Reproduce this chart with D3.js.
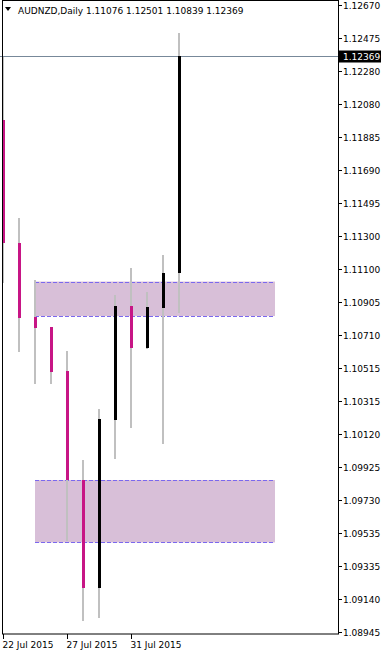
<!DOCTYPE html>
<html><head><meta charset="utf-8">
<script src="https://cdn.jsdelivr.net/npm/d3@7"></script>
<style>html,body{margin:0;padding:0;background:#fff;overflow:hidden}svg{display:block}</style>
</head><body>
<svg id="chart" width="381" height="653"></svg>
<script>
// ---- data ----
const dates  = ["22 Jul","23 Jul","24 Jul","26 Jul","27 Jul","28 Jul","29 Jul","30 Jul","31 Jul","2 Aug","3 Aug","4 Aug"];
const opens  = [1.11987,1.11256,1.10816,1.10757,1.10496,1.09848,1.09206,1.10205,1.10882,1.10632,1.10870,1.11076];
const highs  = [1.12361,1.11405,1.11036,1.10757,1.10614,1.09967,1.10270,1.10947,1.11108,1.10965,1.11185,1.12501];
const lows   = [1.11018,1.10609,1.10418,1.10418,1.09486,1.09010,1.09028,1.09973,1.10157,1.10626,1.10062,1.10839];
const closes = [1.11256,1.10811,1.10751,1.10490,1.09848,1.09206,1.10211,1.10882,1.10632,1.10876,1.11078,1.12369];
const priceTicks = [1.12670,1.12475,1.12280,1.12080,1.11885,1.11690,1.11495,1.11300,1.11100,1.10905,1.10710,1.10515,1.10315,1.10120,1.09925,1.09730,1.09535,1.09335,1.09140,1.08945];
const dateTickIdx = [0,4,8];
const dateTickLabels = ["22 Jul 2015","27 Jul 2015","31 Jul 2015"];
const zoneTop = [1.11027,1.09848];
const zoneBottom = [1.10822,1.09477];
const zoneStart = [2,2];
const zoneEnd = [17,17];
const symbol = "AUDNZD,Daily";
const lastPrice = 1.12369;

const svg = d3.select("#chart");
const font = "'DejaVu Sans', Tahoma, sans-serif";
const L = 2, R = 338, T = 0.5, B = 634;
const x = d3.scaleLinear().domain([0, 21]).range([3, 339]);
const y = d3.scaleLinear().domain([1.08945, 1.12670]).range([632, 5]);

// zones
const zones = zoneTop.map((t,i)=>({t, b:zoneBottom[i], s:zoneStart[i], e:zoneEnd[i]}));
svg.append("g").selectAll("rect").data(zones).join("rect")
  .attr("x", d=>x(d.s)).attr("width", d=>x(d.e)-x(d.s))
  .attr("y", d=>y(d.t)).attr("height", d=>y(d.b)-y(d.t))
  .attr("fill", "#D8BFD8");
const zl = svg.append("g");
zones.forEach(d=>{
  [d.t, d.b].forEach(p=>{
    zl.append("line").attr("x1", x(d.s)).attr("x2", x(d.e))
      .attr("y1", Math.round(y(p))+0.5).attr("y2", Math.round(y(p))+0.5)
      .attr("stroke", "#7B68EE").attr("stroke-width", 1).attr("stroke-dasharray", "4,2");
  });
});

// current price line
svg.append("line").attr("x1", 0).attr("x2", R)
  .attr("y1", Math.round(y(lastPrice))+0.5).attr("y2", Math.round(y(lastPrice))+0.5)
  .attr("stroke", "#778899").attr("stroke-width", 1);

// candles
const candles = dates.map((d,i)=>({i, o:opens[i], h:highs[i], l:lows[i], c:closes[i]}));
const cg = svg.append("g");
cg.selectAll("rect.wick").data(candles).join("rect").attr("class","wick")
  .attr("x", d=>Math.round(x(d.i))-1).attr("width", 2)
  .attr("y", d=>Math.round(y(d.h))).attr("height", d=>Math.max(1, Math.round(y(d.l))-Math.round(y(d.h))))
  .attr("fill", "#C0C0C0");
cg.selectAll("rect.body").data(candles).join("rect").attr("class","body")
  .attr("x", d=>Math.round(x(d.i))-1).attr("width", 3)
  .attr("y", d=>Math.round(y(Math.max(d.o,d.c))))
  .attr("height", d=>Math.max(1, Math.round(y(Math.min(d.o,d.c)))-Math.round(y(Math.max(d.o,d.c)))))
  .attr("fill", d=>d.c>=d.o ? "#000000" : "#C71585");

// frame
svg.append("rect").attr("x", L+0.5).attr("y", T).attr("width", R-L).attr("height", B-T)
  .attr("fill", "none").attr("stroke", "#000").attr("stroke-width", 1);

// price axis
const ya = svg.append("g");
priceTicks.forEach(p=>{
  const yy = Math.round(y(p))+0.5;
  ya.append("line").attr("x1", R+0.5).attr("x2", R+4).attr("y1", yy).attr("y2", yy).attr("stroke", "#000");
  ya.append("text").attr("x", 343).attr("y", yy).attr("dy", "0.35em")
    .attr("font-family", font).attr("font-size", 9).attr("fill", "#000").text(p.toFixed(5));
});
// last price box
const ly = Math.round(y(lastPrice))+0.5;
ya.append("rect").attr("x", R+1).attr("y", ly-6).attr("width", 381-R-1).attr("height", 12).attr("fill", "#000");
ya.append("text").attr("x", 343).attr("y", ly).attr("dy", "0.35em")
  .attr("font-family", font).attr("font-size", 9).attr("fill", "#fff").text(lastPrice.toFixed(5));

// date axis
const xa = svg.append("g");
dateTickIdx.forEach((idx,k)=>{
  const xx = Math.round(x(idx))+0.5;
  xa.append("line").attr("x1", xx).attr("x2", xx).attr("y1", B).attr("y2", B+5).attr("stroke", "#000");
  xa.append("text").attr("x", xx-1).attr("y", 648)
    .attr("font-family", font).attr("font-size", 9).attr("fill", "#000").text(dateTickLabels[k]);
});

// header
svg.append("path").attr("d", "M5,7 L11,7 L8,11 Z").attr("fill", "#000");
svg.append("text").attr("x", 18).attr("y", 14)
  .attr("font-family", font).attr("font-size", 9).attr("fill", "#000")
  .text(symbol + "  " + [opens[11], highs[11], lows[11], closes[11]].map(v=>v.toFixed(5)).join(" "));
</script>
</body></html>
